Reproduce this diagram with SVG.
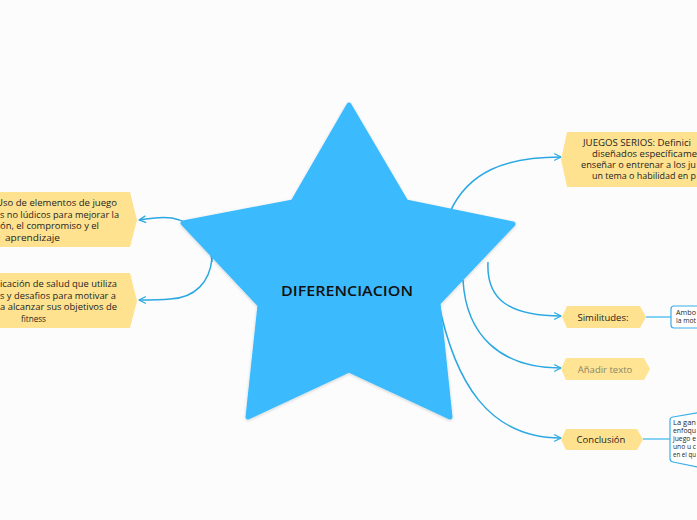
<svg xmlns="http://www.w3.org/2000/svg" width="697" height="520" viewBox="0 0 697 520">
<defs>
<style>
.bg{fill:#fcfcfc}
.node{fill:#fee28f}
.ghost{fill:#fee493}
.txt{font-family:"Open Sans","Liberation Sans",sans-serif;font-size:9.3px;fill:#1e1e1e}
.txt2{font-family:"Open Sans","Liberation Sans",sans-serif;font-size:8.7px;fill:#1e1e1e}
.small{font-family:"Open Sans","Liberation Sans",sans-serif;font-size:6.6px;fill:#1e1e1e}
.lbl{font-family:"Open Sans","Liberation Sans",sans-serif;font-size:9.5px;fill:#1e1e1e;text-anchor:middle}
.conn{fill:none;stroke:#2aa8e2;stroke-width:1.5}
.sub{fill:none;stroke:#5ec4f2;stroke-width:1.5}
.box{fill:#ffffff;stroke:#3aaeea;stroke-width:1.2}
</style>
<marker id="arr" viewBox="0 0 10 10" refX="9" refY="5" markerWidth="8" markerHeight="8" markerUnits="userSpaceOnUse" orient="auto">
<path d="M1,1 L9,5 L1,9" fill="none" stroke="#2aa8e2" stroke-width="1.6" stroke-linecap="round" stroke-linejoin="round"/>
</marker>
<filter id="sh" x="-10%" y="-10%" width="120%" height="120%">
<feDropShadow dx="0" dy="1" stdDeviation="1.5" flood-color="#000" flood-opacity="0.18"/>
</filter>
</defs>
<rect class="bg" x="0" y="0" width="697" height="520"/>

<g id="connectors">
<path class="conn" d="M 212 262 C 210 236, 192 222, 172 218 C 158 216, 148 219, 139 220" marker-end="url(#arr)"/>
<path class="conn" d="M 212 258 C 210 282, 195 298, 170 299 C 160 300, 150 300, 139 300" marker-end="url(#arr)"/>
<path class="conn" d="M 450 212 C 468 172, 505 157, 561 157" marker-end="url(#arr)"/>
<path class="conn" d="M 488 262 C 486 300, 510 316, 561 316" marker-end="url(#arr)"/>
<path class="conn" d="M 463 280 C 466 335, 500 368, 561 368" marker-end="url(#arr)"/>
<path class="conn" d="M 438 300 C 455 385, 490 438, 561 438" marker-end="url(#arr)"/>
<path class="sub" d="M 646 317 L 671 317"/>
<path class="sub" d="M 643 439 L 670 439"/>
</g>

<g id="center">
<polygon points="349,105 406,202 513,224 438,303 450,417 349,370 248,417 260,305 183,223 293,202" fill="#3bbbfd" stroke="#3bbbfd" stroke-width="5" stroke-linejoin="round" filter="url(#sh)"/>
<text x="347" y="296" font-family="'Open Sans','Liberation Sans',sans-serif" font-size="15" font-weight="600" fill="#111" text-anchor="middle" textLength="132" lengthAdjust="spacingAndGlyphs">DIFERENCIACION</text>
</g>

<g id="node-gamificacion">
<polygon class="node" points="-10,192 130,192 137,220 130,247 -10,247"/>
<text class="txt" x="-4" y="206" textLength="121" lengthAdjust="spacingAndGlyphs">Uso de elementos de juego</text>
<text class="txt" x="0" y="217.5" textLength="119" lengthAdjust="spacingAndGlyphs">s no lúdicos para mejorar la</text>
<text class="txt" x="0" y="229" textLength="99" lengthAdjust="spacingAndGlyphs">ón, el compromiso y el</text>
<text class="txt" x="5" y="240.5" textLength="55" lengthAdjust="spacingAndGlyphs">aprendizaje</text>
</g>

<g id="node-app">
<polygon class="node" points="-10,273 130,273 137,301 130,328 -10,328"/>
<text class="txt" x="0" y="287" textLength="117" lengthAdjust="spacingAndGlyphs">icación de salud que utiliza</text>
<text class="txt" x="0" y="298.5" textLength="116" lengthAdjust="spacingAndGlyphs">s y desafios para motivar a</text>
<text class="txt" x="0" y="310" textLength="117" lengthAdjust="spacingAndGlyphs">a alcanzar sus objetivos de</text>
<text class="txt" x="21" y="321.5" textLength="25" lengthAdjust="spacingAndGlyphs">fitness</text>
</g>

<g id="node-juegos">
<polygon class="node" points="567,132 710,132 710,187 567,187 561,159.5"/>
<text class="txt2" x="583" y="146" textLength="108" lengthAdjust="spacingAndGlyphs">JUEGOS SERIOS: Definici</text>
<text class="txt2" x="592" y="157" textLength="105" lengthAdjust="spacingAndGlyphs">diseñados específicame</text>
<text class="txt2" x="581" y="168" textLength="115" lengthAdjust="spacingAndGlyphs">enseñar o entrenar a los ju</text>
<text class="txt2" x="592" y="179" textLength="104" lengthAdjust="spacingAndGlyphs">un tema o habilidad en p</text>
</g>

<g id="node-similitudes">
<polygon class="node" points="562,317 567,306 640,306 646,317 640,328 567,328"/>
<text class="lbl" x="603" y="320.5">Similitudes:</text>
</g>

<g id="node-similitudes-text">
<rect class="box" x="671" y="306" width="40" height="22" rx="3"/>
<text class="small" x="676" y="314.5" textLength="20" lengthAdjust="spacingAndGlyphs">Ambo</text>
<text class="small" x="676" y="323" textLength="20" lengthAdjust="spacingAndGlyphs">la mot</text>
</g>

<g id="node-anadir">
<polygon class="ghost" points="561,369 566,358 644,358 650,369 644,380 566,380"/>
<text class="lbl" x="605" y="372.5" style="fill:#8d8467">Añadir texto</text>
</g>

<g id="node-conclusion">
<polygon class="node" points="561,439.5 566,429 637,429 643,439.5 637,450 566,450"/>
<text class="lbl" x="601" y="443">Conclusión</text>
</g>

<g id="node-conclusion-text">
<path class="box" d="M 673 417 L 702 412 L 702 468 L 673 462 Q 670 461.5 670 458.5 L 670 420 Q 670 417.5 673 417 Z"/>
<text class="small" x="673" y="424.5" textLength="23" lengthAdjust="spacingAndGlyphs">La gan</text>
<text class="small" x="673" y="432.5" textLength="23" lengthAdjust="spacingAndGlyphs">enfoqu</text>
<text class="small" x="673" y="440.5" textLength="23" lengthAdjust="spacingAndGlyphs">juego e</text>
<text class="small" x="673" y="448.5" textLength="23" lengthAdjust="spacingAndGlyphs">uno u c</text>
<text class="small" x="673" y="456.5" textLength="23" lengthAdjust="spacingAndGlyphs">en el qu</text>
</g>
</svg>
